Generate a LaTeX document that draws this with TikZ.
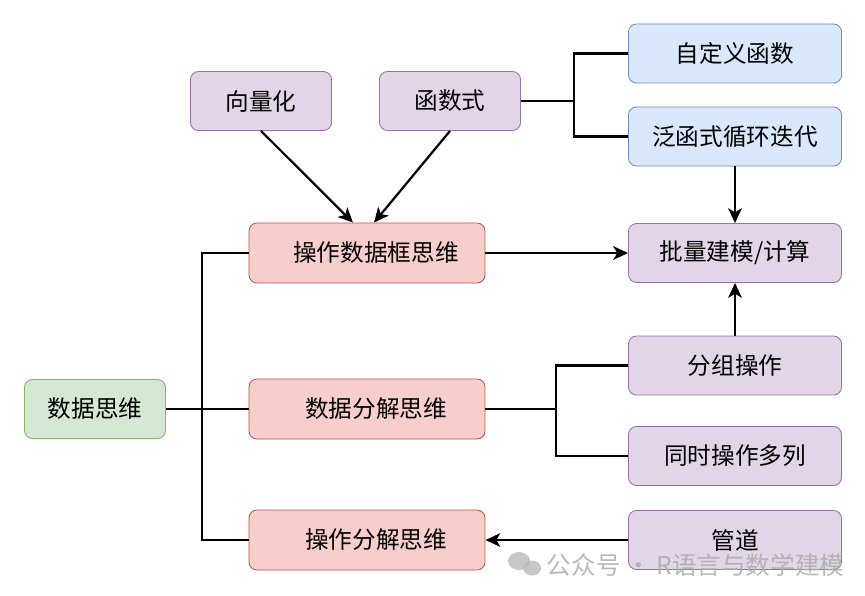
\documentclass[tikz,border=0pt]{standalone}
\usepackage{fontspec}
\setmainfont{Noto Sans CJK SC}
\usetikzlibrary{arrows.meta,positioning,shapes.geometric}
\definecolor{rootfill}{HTML}{D5E8D4}
\definecolor{rootline}{HTML}{82B366}
\definecolor{thinkfill}{HTML}{F8CECC}
\definecolor{thinkline}{HTML}{B85450}
\definecolor{toolfill}{HTML}{E1D5E7}
\definecolor{toolline}{HTML}{9673A6}
\definecolor{funcfill}{HTML}{DAE8FC}
\definecolor{funcline}{HTML}{6C8EBF}
\tikzset{
  box/.style={rectangle, rounded corners=0.2cm, line width=0.6pt,
              minimum height=1.475cm, align=center,
              font=\fontsize{16.8}{20}\selectfont},
  root/.style={box, fill=rootfill, draw=rootline, minimum width=3.525cm},
  think/.style={box, fill=thinkfill, draw=thinkline, minimum width=5.9cm,
                minimum height=1.5cm, execute at begin node=\hspace*{0.45cm}},
  tool/.style={box, fill=toolfill, draw=toolline, minimum width=3.525cm},
  task/.style={box, fill=toolfill, draw=toolline, minimum width=5.325cm},
  func/.style={task, fill=funcfill, draw=funcline},
  link/.style={line width=1.6pt, draw=black},
  arrow/.style={link, -{Stealth[length=0.37cm, width=0.34cm, inset=0.1cm]}}
}

\begin{document}
\begin{tikzpicture}[x=0.025cm, y=-0.025cm]
\useasboundingbox (0,0) rectangle (865,595);
% left part
\node[root] (sjsw) at (95,409) {数据思维};
\foreach \id/\txt/\row in {czk/操作数据框思维/253, sjfj/数据分解思维/409,
                           czfj/操作分解思维/540}
  \node[think] (\id) at (367,\row) {\txt};
\node[tool] (xlh) at (261,101) {向量化};
\node[tool] (hss) at (450,101) {函数式};
% right column
\foreach \id/\txt/\row in {zdy/自定义函数/53.5, fhs/泛函式循环迭代/136.5}
  \node[func] (\id) at (735,\row) {\txt};
\foreach \id/\txt/\row in {plj/{批量建模/计算}/253, fz/分组操作/365.5,
                           tsc/同时操作多列/456, gd/管道/540}
  \node[task] (\id) at (735,\row) {\txt};
% joints
\coordinate (trunk) at (202,409);
\coordinate (hsj) at (574,101);
\coordinate (fjj) at (556,409);
% connectors
\draw[link] (sjsw.east) -- (trunk);
\draw[link] (czk.west) -| (trunk) |- (czfj.west);
\draw[link] (trunk) -- (sjfj.west);
\draw[arrow] (xlh.south) -- ([xshift=-10]czk.north);
\draw[arrow] (hss.south) -- ([xshift=5]czk.north);
\draw[link] (hss.east) -- (hsj) |- (zdy.west);
\draw[link] (hsj) |- (fhs.west);
\draw[arrow] (fhs.south) -- (plj.north);
\draw[arrow] (czk.east) -- (plj.west);
\draw[arrow] (fz.north) -- (plj.south);
\draw[link] (sjfj.east) -- (fjj) |- (fz.west);
\draw[link] (fjj) |- (tsc.west);
\draw[arrow] (gd.west) -- (czfj.east);
% watermark
\fill[gray!55, opacity=0.8] (519,561) ellipse (11 and 9);
\fill[gray!55, opacity=0.8] (532,568) ellipse (9 and 7.5);
\node[anchor=west, text=gray!65, opacity=0.85,
      font=\fontsize{17.5}{20}\selectfont] (wm) at (542,565)
  {公众号 · R语言与数学建模};
\end{tikzpicture}
\end{document}
